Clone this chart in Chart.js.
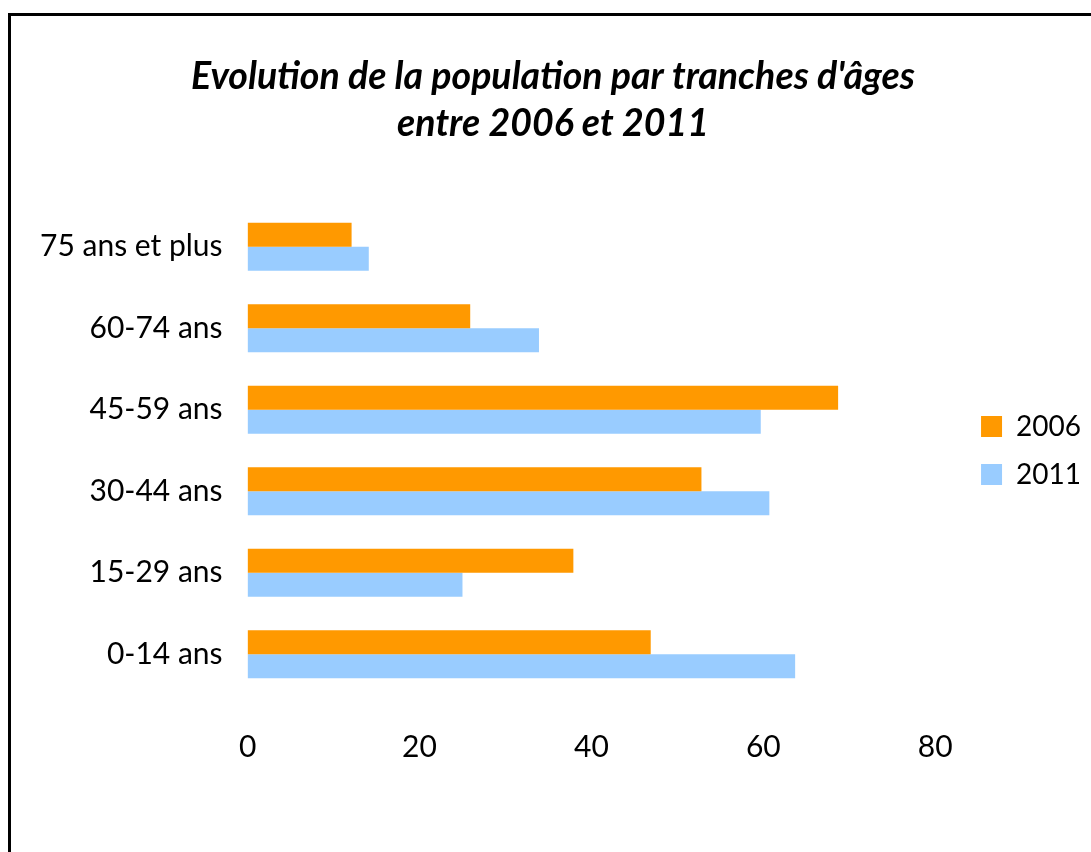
<!DOCTYPE html>
<html>
<head>
<meta charset="utf-8">
<script src="https://cdn.jsdelivr.net/npm/chart.js@4/dist/chart.umd.min.js"></script>
<style>
    html, body { margin: 0; padding: 0; background: #fff; overflow: hidden; }
    .frame {
        position: absolute; left: 8px; top: 13px;
        width: 1200px; height: 1000px;
        border: 3px solid #000;
    }
    #chart { position: absolute; left: 0; top: 0; }
</style>
</head>
<body>
<div class="frame"></div>
<canvas id="chart" width="1091" height="852"></canvas>
<script>
// chart data
const categories = ['75 ans et plus', '60-74 ans', '45-59 ans', '30-44 ans', '15-29 ans', '0-14 ans'];
const values2006 = [12.1, 25.9, 68.7, 52.8, 37.9, 46.9];
const values2011 = [14.1, 33.9, 59.7, 60.7, 25.0, 63.7];
const seriesNames = ['2006', '2011'];
const tickStep = 20;

document.addEventListener("DOMContentLoaded", function () {
    Chart.defaults.font.family = "Lato, 'Open Sans', sans-serif";
    Chart.defaults.color = '#000';

    const ctx = document.getElementById('chart').getContext('2d');
    new Chart(ctx, {
        type: 'bar',
        data: {
            labels: categories,
            datasets: [{
                label: seriesNames[0],
                data: values2006,
                backgroundColor: '#FF9900'
            }, {
                label: seriesNames[1],
                data: values2011,
                backgroundColor: '#99CCFF'
            }]
        },
        options: {
            indexAxis: 'y',
            responsive: false,
            animation: false,
            categoryPercentage: 0.59,
            barPercentage: 1.0,
            layout: {
                padding: { left: 15, right: 0, top: 0, bottom: 53 }
            },
            plugins: {
                title: {
                    display: true,
                    text: ["Evolution de la population par tranches d'âges", 'entre 2006 et 2011'],
                    font: { size: 37.5, weight: 'bold', style: 'italic', lineHeight: 1.253 },
                    padding: { top: 53, bottom: 59 }
                },
                legend: {
                    position: 'right',
                    fullSize: false,
                    labels: {
                        boxWidth: 21,
                        boxHeight: 21,
                        padding: 20,
                        font: { size: 28 }
                    }
                },
                tooltip: { enabled: false }
            },
            scales: {
                x: {
                    min: 0,
                    max: 83,
                    grid: { display: false, drawTicks: false },
                    border: { display: false },
                    ticks: { stepSize: tickStep, includeBounds: false, padding: 34, font: { size: 30 } }
                },
                y: {
                    grid: { display: false, drawTicks: false },
                    border: { display: false },
                    ticks: { padding: 25, font: { size: 30 } }
                }
            }
        }
    });
});
</script>
</body>
</html>
